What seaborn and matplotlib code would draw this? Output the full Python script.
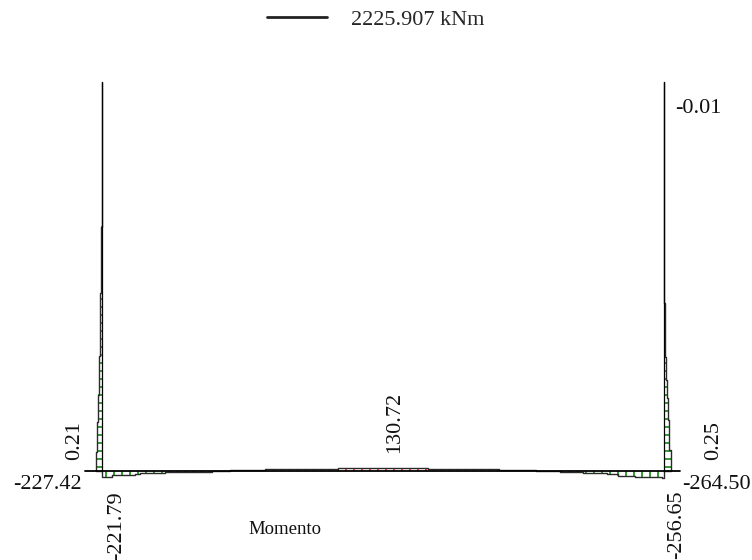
import matplotlib
matplotlib.use("Agg")
import matplotlib.pyplot as plt
import numpy as np
import pandas as pd
import seaborn as sns
from matplotlib.lines import Line2D

# frame geometry (m)
span = 20.0
col_height = 13.87

# beam moment diagram: step boundaries along the span (m) and moments (kNm)
beam_stations = [0.0, 0.356, 1.185, 1.363, 2.253, 3.072, 3.927, 4.567, 5.813, 8.412,
                 11.616, 14.143, 15.46, 16.07, 16.32, 17.13, 17.99, 18.38, 18.99, 19.95, 20.0]
beam_moments = [-221.79, -120, -85, -50, -25, -5, 20, 60, 90, 130.72,
                90, 60, 15, 0, -20, -60, -95, -150, -210, -256.65]

# column diagrams: heights above the beam (m) and moments (kNm)
left_stations = [0.0, 0.705, 1.773, 2.723, 4.112, 6.365, 8.704, 13.87]
left_moments = [-227.42, -163, -127, -100, -52, -18, 0]
right_stations = [0.0, 0.765, 1.833, 2.617, 3.257, 4.076, 5.999, 9.559, 13.87]
right_moments = [-264.50, -197, -160, -123, -100, -62, -18, 0]

scale_moment = 2225.907
scale_label = "2225.907 kNm"
diagram_name = "Momento"

SCALE_LEN = 2.136            # drawn length (m) of scale_moment
K = SCALE_LEN / scale_moment
HATCH = 0.285
POS, NEG = "#ff1f1f", "#0f880f"
OUTLINE = "#2a2a2a"
FS = 16

sns.set_theme(style="white")
plt.rcParams["font.family"] = ["Liberation Serif", "DejaVu Serif"]


def step_outline(stations, moments):
    st = np.asarray(stations, float)
    mo = np.asarray(moments, float)
    s = np.r_[st[0], np.repeat(st, 2)[1:-1], st[-1]]
    m = np.r_[0.0, np.repeat(mo, 2), 0.0]
    return s, m


def hatch_values(stations, moments):
    st = np.asarray(stations, float)
    mo = np.asarray(moments, float)
    h = np.arange(HATCH / 2, st[-1], HATCH)
    idx = np.clip(np.searchsorted(st, h, side="right") - 1, 0, len(mo) - 1)
    v = mo[idx]
    keep = np.abs(v) > 1e-9
    return h[keep], v[keep]


fig = plt.figure(figsize=(7.52, 5.60), dpi=100)
ax = fig.add_axes([0, 0, 1, 1])
ax.set_xlim(-3.62, 23.15)
ax.set_ylim(-3.151, 16.785)
ax.set_axis_off()

# hatching
h, v = hatch_values(beam_stations, beam_moments)
ax.vlines(h, 0, v * K, colors=np.where(v > 0, POS, NEG), lw=1.2)
h, v = hatch_values(left_stations, left_moments)
ax.hlines(h, 0, v * K, colors=np.where(v > 0, POS, NEG), lw=1.2)
h, v = hatch_values(right_stations, right_moments)
ax.hlines(h, span, span - v * K, colors=np.where(v > 0, POS, NEG), lw=1.2)

# diagram outlines
s, m = step_outline(beam_stations, beam_moments)
sns.lineplot(x=s, y=m * K, sort=False, estimator=None, color=OUTLINE, lw=1, ax=ax)
s, m = step_outline(left_stations, left_moments)
sns.lineplot(x=m * K, y=s, sort=False, estimator=None, color=OUTLINE, lw=1, ax=ax)
s, m = step_outline(right_stations, right_moments)
sns.lineplot(x=span - m * K, y=s, sort=False, estimator=None, color=OUTLINE, lw=1, ax=ax)

# frame members
ax.plot([-0.59, span + 0.59], [0, 0], color="black", lw=1.3)
ax.plot([0, 0], [0, col_height], color="black", lw=0.9)
ax.plot([span, span], [0, col_height], color="black", lw=0.9)

# value labels
txt = dict(fontsize=FS, color="#111111")
ax.text(-0.95, 1.12, "0.21", rotation=90, ha="center", va="center", **txt)
ax.text(-0.70, -0.47, "-227.42", ha="right", va="center", **txt)
ax.text(0.545, -0.70, "-221.79", rotation=90, ha="center", va="top", **txt)
ax.text(10.44, 0.66, "130.72", rotation=90, ha="center", va="bottom", **txt)
ax.text(span + 1.80, 1.12, "0.25", rotation=90, ha="center", va="center", **txt)
ax.text(span + 0.66, -0.48, "-264.50", ha="left", va="center", **txt)
ax.text(span + 0.45, -0.66, "-256.65", rotation=90, ha="center", va="top", **txt)
ax.text(span + 0.41, 12.94, "-0.01", ha="left", va="center", **txt)
ax.text(5.24, -2.08, diagram_name, ha="left", va="center", fontsize=13.5, color="#111111")

# scale legend
px_per_m = 752 / (23.15 + 3.62)
fs_px = FS * 100 / 72
handle = Line2D([], [], color="#222222", lw=2)
ax.legend([handle], [scale_label], loc="upper center", bbox_to_anchor=(0.5, 1.0),
          bbox_transform=fig.transFigure, frameon=False, fontsize=FS,
          handlelength=SCALE_LEN * px_per_m / fs_px, handletextpad=1.08,
          borderaxespad=0, borderpad=0.42)

fig.savefig("out.png", dpi=100)
